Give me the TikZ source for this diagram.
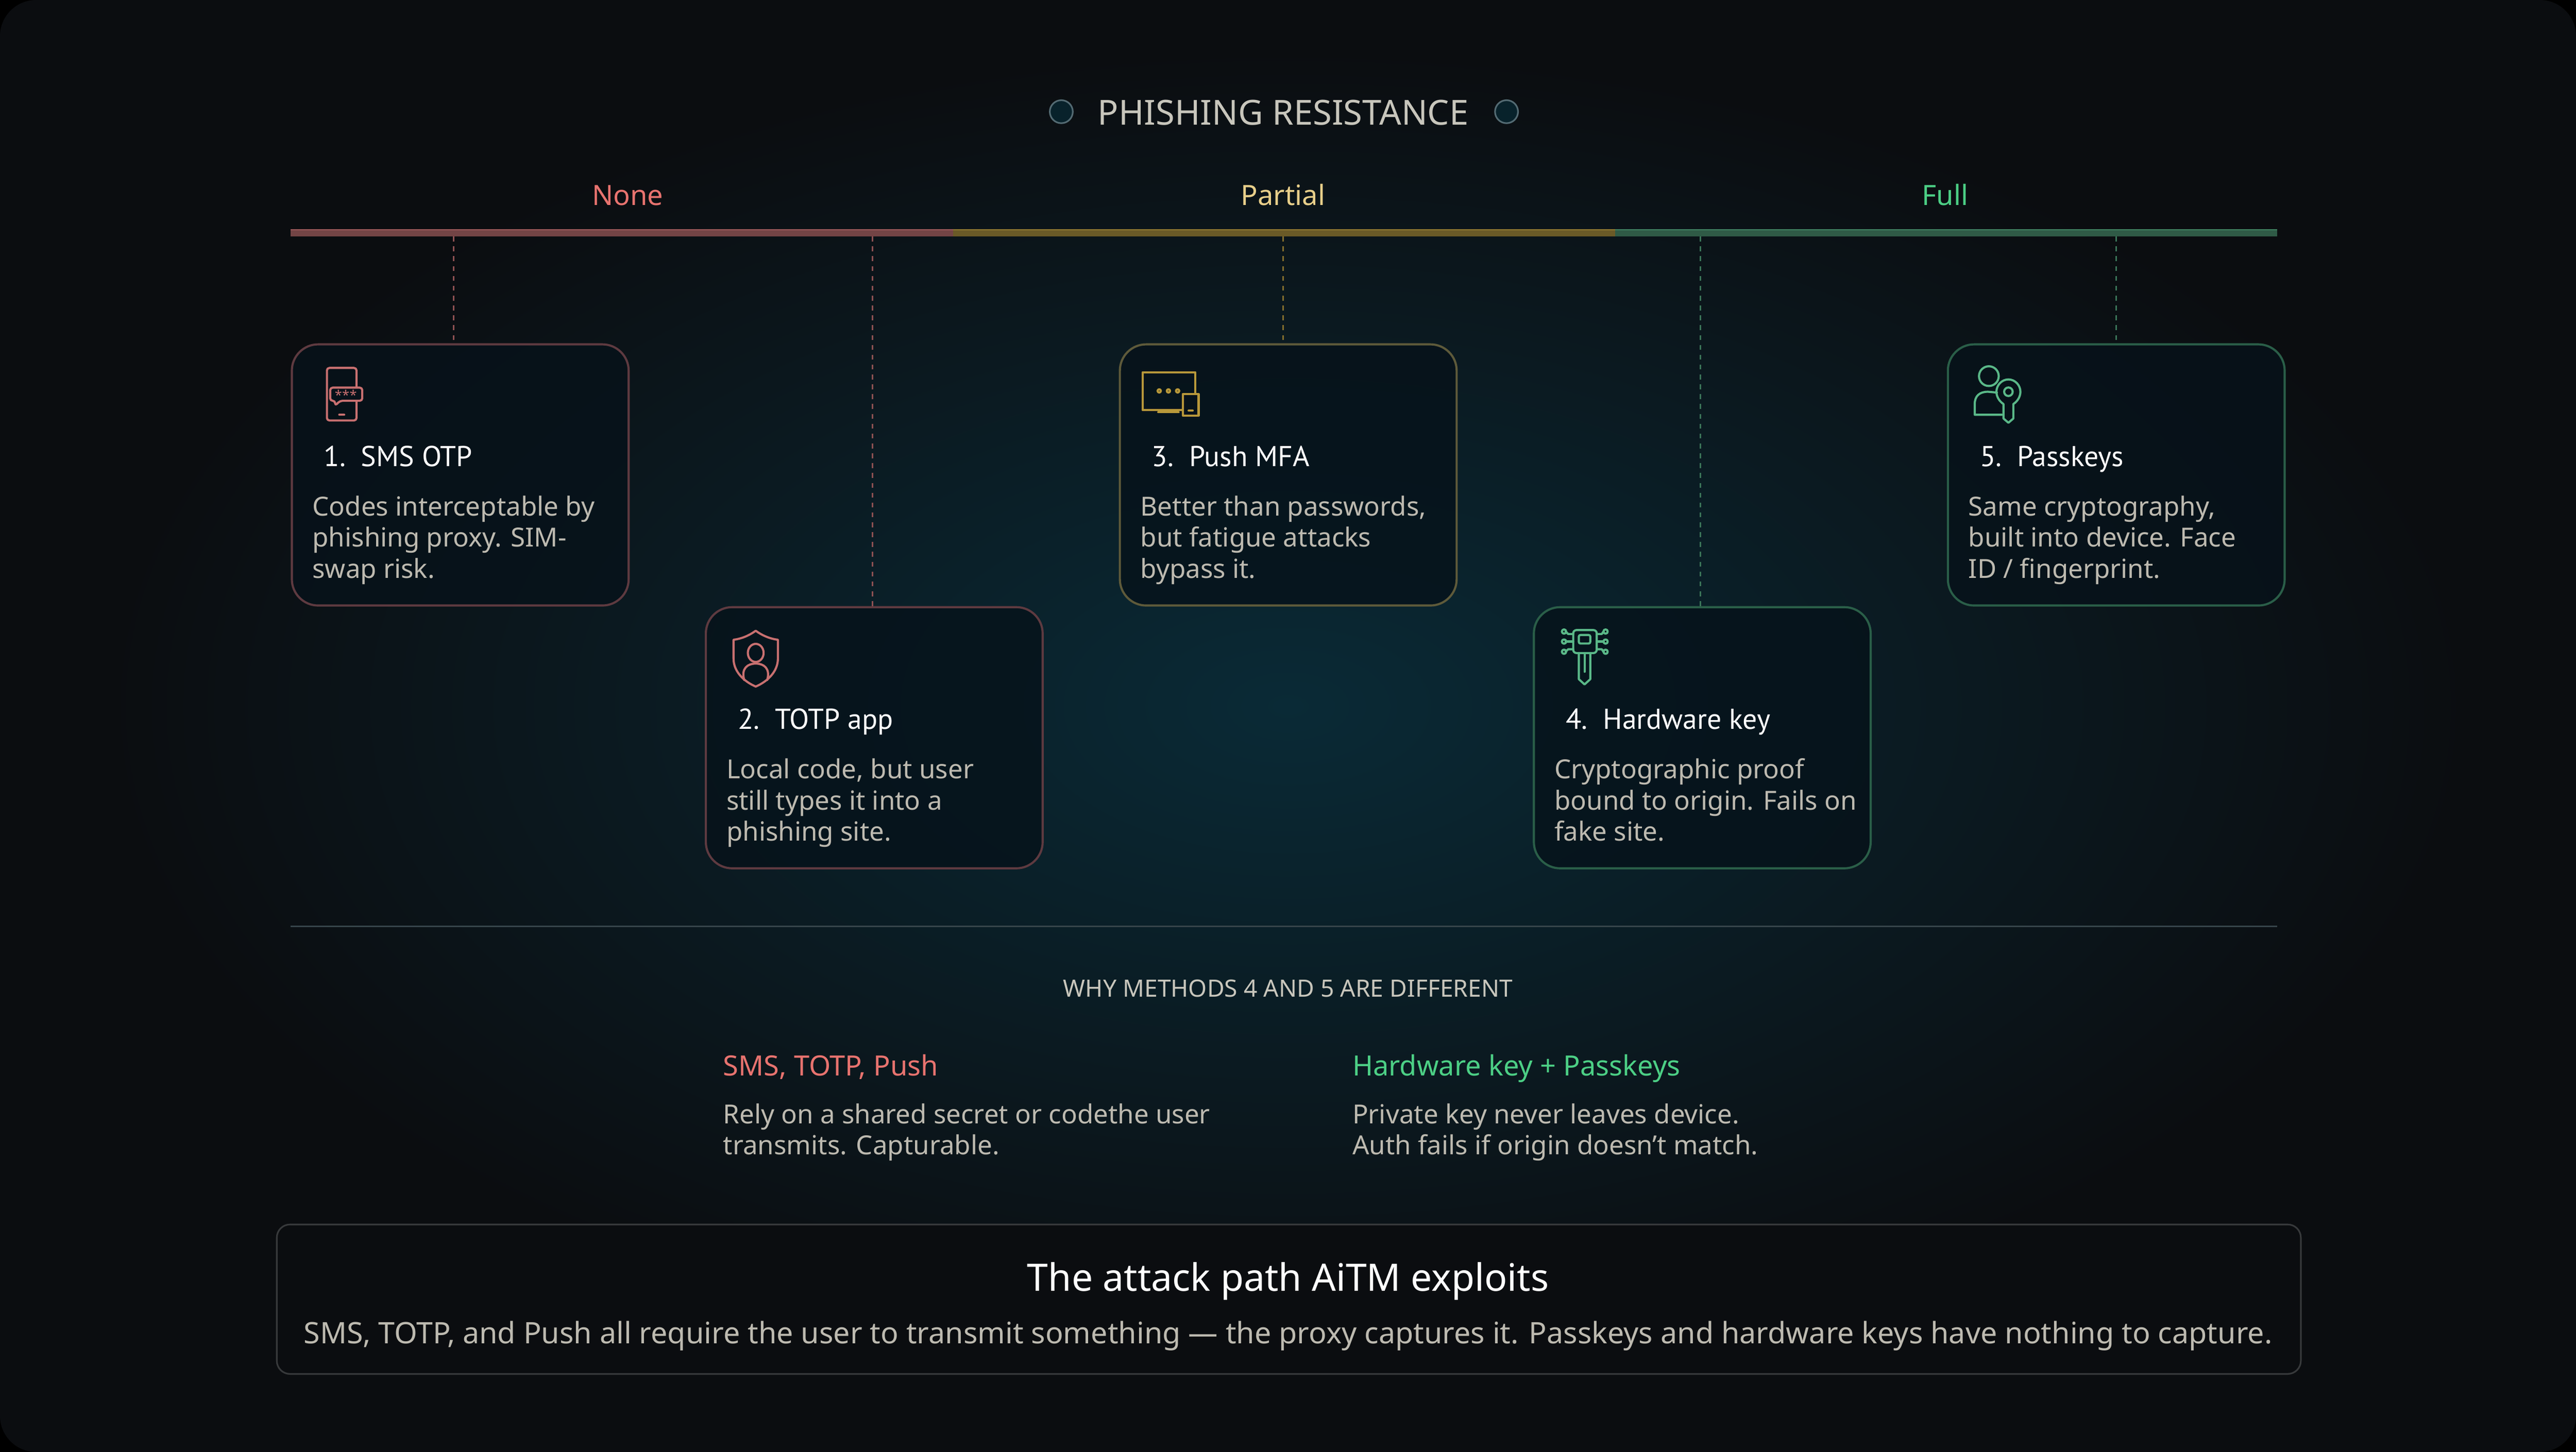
\documentclass[tikz,border=0pt]{standalone}
\usepackage{fontspec}
\setmainfont{Noto Sans}
\newfontfamily\ttl{PT Sans}
\begin{document}
\definecolor{bg}{HTML}{0B0D10}
\definecolor{glow}{HTML}{0A2A36}
\definecolor{txt}{HTML}{BDBAB0}
\definecolor{hd}{HTML}{C8C6BC}
\definecolor{rd}{HTML}{E8736F}
\definecolor{ol}{HTML}{E8CF8A}
\definecolor{gr}{HTML}{4CCF85}
\definecolor{rdi}{HTML}{C87070}
\definecolor{oli}{HTML}{B8983A}
\definecolor{gri}{HTML}{5AB888}
\definecolor{rdb}{HTML}{5E3A40}
\definecolor{olb}{HTML}{5E5A3A}
\definecolor{grb}{HTML}{2A5E48}
\definecolor{cardf}{HTML}{06121A}
\begin{tikzpicture}[x=1pt,y=-1pt,
  card/.style={draw=#1,line width=1.3pt,fill=cardf,fill opacity=0.8,rounded corners=16pt,minimum width=205pt,minimum height=159pt,inner sep=0,anchor=north west},
  conn/.style={draw=#1,line width=1pt,dash pattern=on 3pt off 3pt},
  ico/.style={draw=#1,line width=1.3pt,line join=round,line cap=round},
  ct/.style={font=\ttl\fontsize{17.5}{20}\selectfont,text=white,anchor=base west,inner sep=0},
  cd/.style={font=\fontsize{16}{19}\selectfont,text=txt,anchor=base west,inner sep=0},
  lab/.style={font=\fontsize{17}{19}\selectfont,anchor=base,inner sep=0}]
\useasboundingbox (0,0) rectangle (1568,884);
\fill[black] (0,0) rectangle (1568,884);
\begin{scope}
\clip[rounded corners=22pt] (0,0) rectangle (1568,884);
\fill[bg] (0,0) rectangle (1568,884);
\shade[inner color=glow,outer color=bg] (784,430) ellipse [x radius=720pt,y radius=400pt];
\end{scope}
% header
\node[circle,fill=glow!80!black,draw=glow!70!white,line width=1pt,minimum size=14pt,inner sep=0] (d1) at (646,68) {};
\node[circle,fill=glow!80!black,draw=glow!70!white,line width=1pt,minimum size=14pt,inner sep=0] (d2) at (917,68) {};
\node[font=\fontsize{21}{24}\selectfont,text=hd,anchor=base,inner sep=0] (title) at (781,76) {PHISHING RESISTANCE};
\node[lab,text=rd] (lnone) at (382,125) {None};
\node[lab,text=ol] (lpart) at (781,125) {Partial};
\node[lab,text=gr] (lfull) at (1184,125) {Full};
% bar
\fill[rdi!55!bg] (177,140) rectangle (580,144);
\fill[oli!55!bg] (580,140) rectangle (983,144);
\fill[gri!45!bg] (983,140) rectangle (1386,144);
\draw[rdi!80!bg,line width=0.6pt] (177,140) -- (580,140);
\draw[oli!80!bg,line width=0.6pt] (580,140) -- (983,140);
\draw[gri!70!bg,line width=0.6pt] (983,140) -- (1386,140);
\coordinate (b1) at (276,144);
\coordinate (b2) at (531,144);
\coordinate (b3) at (781,144);
\coordinate (b4) at (1035,144);
\coordinate (b5) at (1288,144);
% cards
\node[card=rdb] (c1) at (177,209) {};
\node[card=rdb] (c2) at (429,369) {};
\node[card=olb] (c3) at (681,209) {};
\node[card=grb] (c4) at (933,369) {};
\node[card=grb] (c5) at (1185,209) {};
\draw[conn=rdi!70!bg] (b1) -- (b1|-c1.north);
\draw[conn=rdi!70!bg] (b2) -- (b2|-c2.north);
\draw[conn=oli!70!bg] (b3) -- (b3|-c3.north);
\draw[conn=gri!60!bg] (b4) -- (b4|-c4.north);
\draw[conn=gri!60!bg] (b5) -- (b5|-c5.north);
% icon 1
\begin{scope}[shift={(177,209)}]
\draw[ico=rdi,rounded corners=1.5pt] (22,15) rectangle (40,47);
\draw[ico=rdi,fill=cardf,rounded corners=1.5pt] (24,27) -- (43.5,27) -- (43.5,35) -- (30,35) -- (27,38) -- (27,35) -- (24,35) -- cycle;
\foreach \x in {29,33.5,38}{\node[text=rdi,font=\fontsize{8}{8}\selectfont,inner sep=0] at (\x,31.5) {*};}
\draw[ico=rdi] (29.5,43.5) -- (32.5,43.5);
\end{scope}
% icon 2
\begin{scope}[shift={(429,369)}]
\draw[ico=rdi] (31,15) .. controls (27,18) and (22,20) .. (17.5,20.5) -- (17.5,32) .. controls (17.5,40) and (24,46) .. (31,49) .. controls (38,46) and (44.5,40) .. (44.5,32) -- (44.5,20.5) .. controls (40,20) and (35,18) .. (31,15) -- cycle;
\draw[ico=rdi] (31,28.5) ellipse [x radius=4.8pt,y radius=5.5pt];
\draw[ico=rdi] (24,45) .. controls (22,38) and (26,35) .. (31,35) .. controls (36,35) and (40,38) .. (38,45);
\end{scope}
% icon 3
\begin{scope}[shift={(681,209)}]
\draw[ico=oli] (14.5,17.6) rectangle (46.5,40.7);
\draw[ico=oli] (24,42) -- (36.4,42);
\draw[ico=oli,fill=cardf] (39,31) rectangle (48.6,44);
\draw[ico=oli] (42.5,41) -- (45,41);
\foreach \x in {24.6,30.2,35.8}{\draw[ico=oli] (\x,29) circle (1pt);}
\end{scope}
% icon 4
\begin{scope}[shift={(933,369)}]
\draw[ico=gri,rounded corners=2pt] (24.6,14.6) rectangle (38.9,28.6);
\draw[ico=gri,rounded corners=1pt] (28,17.6) rectangle (35,22.8);
\draw[ico=gri] (28,28.6) -- (28,44.5) -- (31.5,47.7) -- (35,44.5) -- (35,28.6);
\draw[ico=gri] (31.5,29) -- (31.5,40);
\foreach \y/\d in {15.5/1,21.6/0,27.8/-1}{
 \draw[ico=gri] (24.6,\y+\d*1.5) -- (21.5,\y+\d*1.5) -- (20,\y);
 \draw[ico=gri] (38.9,\y+\d*1.5) -- (42,\y+\d*1.5) -- (43,\y);
 \draw[ico=gri] (19,\y) circle (1.3pt);
 \draw[ico=gri] (44.3,\y) circle (1.3pt);}
\end{scope}
% icon 5
\begin{scope}[shift={(1185,209)}]
\draw[ico=gri] (25.6,20) circle (6pt);
\draw[ico=gri] (33.5,43.5) -- (17,43.5) -- (17,37) .. controls (17,32) and (20,29.5) .. (25,29.5) -- (30.5,30);
\draw[ico=gri] (34.5,40) -- (34.5,45.8) -- (37.5,48.4) -- (40.5,45.8) -- (40.5,37) .. controls (43.5,35) and (44.8,32) .. (44.8,29.5) .. controls (44.8,25.5) and (41.5,22) .. (37.5,22) .. controls (33.5,22) and (30.2,25.5) .. (30.2,29.5) .. controls (30.2,32) and (31.5,35) .. (34.5,37) -- cycle;
\draw[ico=gri] (37.5,29.5) circle (2.6pt);
\end{scope}
% card texts
\node[ct] (t1) at (197,284) {1.\ \ SMS OTP};
\node[cd] (d1a) at (190,314) {Codes interceptable by};
\node[cd] (d1b) at (190,333) {phishing proxy. SIM-};
\node[cd] (d1c) at (190,352) {swap risk.};
\node[ct] (t2) at (449,444) {2.\ \ TOTP app};
\node[cd] (d2a) at (442,474) {Local code, but user};
\node[cd] (d2b) at (442,493) {still types it into a};
\node[cd] (d2c) at (442,512) {phishing site.};
\node[ct] (t3) at (701,284) {3.\ \ Push MFA};
\node[cd] (d3a) at (694,314) {Better than passwords,};
\node[cd] (d3b) at (694,333) {but fatigue attacks};
\node[cd] (d3c) at (694,352) {bypass it.};
\node[ct] (t4) at (953,444) {4.\ \ Hardware key};
\node[cd] (d4a) at (946,474) {Cryptographic proof};
\node[cd] (d4b) at (946,493) {bound to origin. Fails on};
\node[cd] (d4c) at (946,512) {fake site.};
\node[ct] (t5) at (1205,284) {5.\ \ Passkeys};
\node[cd] (d5a) at (1198,314) {Same cryptography,};
\node[cd] (d5b) at (1198,333) {built into device. Face};
\node[cd] (d5c) at (1198,352) {ID / fingerprint.};
% divider
\draw[line width=0.8pt,color=glow!70!white!60!bg] (177,564) -- (1386,564);
\node[font=\fontsize{14.5}{16}\selectfont,text=hd,anchor=base,inner sep=0] (why) at (784,607) {WHY METHODS 4 AND 5 ARE DIFFERENT};
\node[cd,text=rd,font=\fontsize{17}{19}\selectfont] (s1) at (440,655) {SMS, TOTP, Push};
\node[cd] (s1a) at (440,684) {Rely on a shared secret or codethe user};
\node[cd] (s1b) at (440,703) {transmits. Capturable.};
\node[cd,text=gr,font=\fontsize{17}{19}\selectfont] (s2) at (823,655) {Hardware key + Passkeys};
\node[cd] (s2a) at (823,684) {Private key never leaves device.};
\node[cd] (s2b) at (823,703) {Auth fails if origin doesn't match.};
% bottom box
\node[draw=white!18!bg,line width=1pt,fill=bg,rounded corners=8pt,minimum width=1232pt,minimum height=91pt,anchor=north west,inner sep=0] (box) at (168,745) {};
\node[font=\fontsize{23}{26}\selectfont,text=white,anchor=base,inner sep=0] (bt) at (784,786) {The attack path AiTM exploits};
\node[font=\fontsize{18}{20}\selectfont,text=txt,anchor=base,inner sep=0] (bd) at (784,818) {SMS, TOTP, and Push all require the user to transmit something — the proxy captures it. Passkeys and hardware keys have nothing to capture.};
\end{tikzpicture}
\end{document}
